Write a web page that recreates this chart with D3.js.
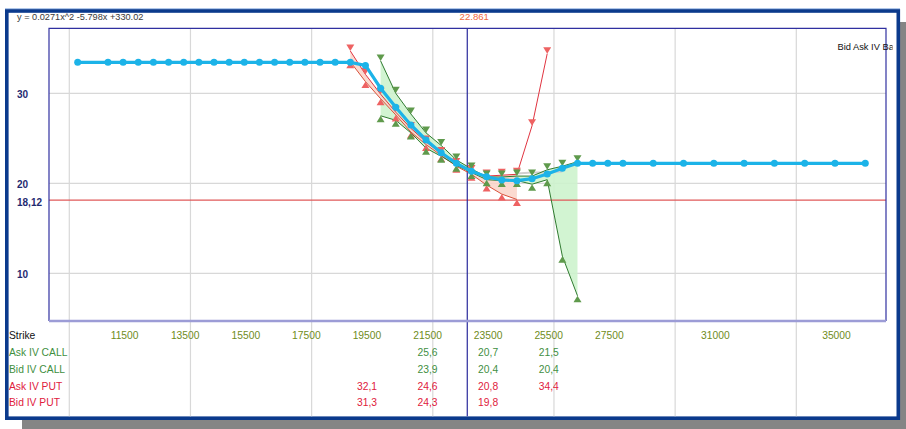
<!DOCTYPE html>
<html><head><meta charset="utf-8">
<script src="https://cdn.jsdelivr.net/npm/d3@7/dist/d3.min.js"></script>
<style>body{margin:0;background:#fff;} svg{display:block;font-family:"Liberation Sans",Arial,sans-serif;}</style>
</head><body><svg id="c" width="906" height="429"></svg>
<script>
// ---- data ----
const fitStrikes = [10000,11000,11500,12000,12500,13000,13500,14000,14500,15000,15500,16000,16500,17000,17500,18000,18500,19000,
  19500,20000,20500,21000,21500,22000,22500,23000,23500,24000,24500,25000,25500,26000,26500,
  27000,27500,28000,29000,30000,31000,32000,33000,34000,35000,36000];
const fitIV = [33.44,33.44,33.44,33.44,33.44,33.44,33.44,33.44,33.44,33.44,33.44,33.44,33.44,33.44,33.44,33.44,33.44,33.44,
  33.1,30.56,28.44,26.48,24.81,23.4,22.22,21.33,20.73,20.37,20.29,20.51,21.03,21.67,22.22,
  22.22,22.22,22.22,22.22,22.22,22.22,22.22,22.22,22.22,22.22,22.22];
const callStrikes = [20000,20500,21000,21500,22000,22500,23000,23500,24000,24500,25000,25500,26000,26500];
const askCallIV = [33.6,30.0,27.7,25.6,24.2,22.6,21.6,20.7,20.7,20.8,20.8,21.5,21.9,22.4];
const bidCallIV = [27.5,27.0,25.6,23.9,23.0,22.0,21.2,20.4,20.3,20.3,19.9,20.4,11.9,7.5];
const askPutStrikes = [19000,19500,20000,20500,21000,21500,22000,22500,23000,23500,24000,24500,25000,25500];
const askPutIV = [34.7,32.1,29.9,27.9,26.1,24.6,23.3,22.1,21.3,20.8,20.9,21.0,26.4,34.4];
const bidPutStrikes = [19000,19500,20000,20500,21000,21500,22000,22500,23000,23500,24000,24500];
const bidPutIV = [33.5,31.3,29.4,27.6,25.7,24.3,23.1,21.9,21.0,19.8,18.8,18.2];
const midStrikes = [24500,25000,25500,26000];
const midIV = [21.1,21.2,21.2,21.3];
const tickStrikes = [11500,13500,15500,17500,19500,21500,23500,25500,27500,31000,35000];
const gridStrikes = [9723,13723,17723,21723,25723,29723,33723];
const yTicks = [10,20,30];
const refIV = 18.12, refLabel = "18,12";
const underlying = 22861, underlyingLabel = "22.861";
const equation = "y = 0.0271x^2 -5.798x +330.02";
const legendText = "Bid Ask IV Bar";
const tableRows = [
  {label:"Ask IV CALL", strikes:callStrikes, values:askCallIV, color:"#3f8f3f"},
  {label:"Bid IV CALL", strikes:callStrikes, values:bidCallIV, color:"#3f8f3f"},
  {label:"Ask IV PUT", strikes:askPutStrikes, values:askPutIV, color:"#e0203c"},
  {label:"Bid IV PUT", strikes:bidPutStrikes, values:bidPutIV, color:"#e0203c"}
];

// ---- drawing ----
const svg = d3.select("#c");
const L=49, R=886, T=28.3, B=321;
const x = d3.scaleLinear().domain([9053,36684]).range([L,R]);
const y = d3.scaleLinear().domain([4.7,37.22]).range([B,T]);

// shadow + frame
svg.append("rect").attr("x",22).attr("y",22).attr("width",884).attr("height",407).attr("fill","#858585");
svg.append("rect").attr("x",5).attr("y",8.3).attr("width",895).attr("height",1.2).attr("fill","#8fb0e0");
svg.append("rect").attr("x",6.8).attr("y",11).attr("width",891.5).attr("height",407.2)
  .attr("fill","#fff").attr("stroke","#0b3a8c").attr("stroke-width",3.6);
svg.append("defs").append("clipPath").attr("id","fr").append("rect")
  .attr("x",8.6).attr("y",12.8).attr("width",884).attr("height",403.5);
const g = svg.append("g").attr("clip-path","url(#fr)");

// grid
g.selectAll(".vg").data(gridStrikes).join("line")
  .attr("x1",d=>x(d)).attr("x2",d=>x(d)).attr("y1",T).attr("y2",417)
  .attr("stroke","#d8d8d8").attr("stroke-width",1.2);
g.selectAll(".hg").data(yTicks).join("line")
  .attr("x1",L).attr("x2",R).attr("y1",d=>y(d)).attr("y2",d=>y(d))
  .attr("stroke","#d8d8d8").attr("stroke-width",1.2);

// fills
const callIdx = d3.range(callStrikes.length);
g.append("path").datum(callIdx)
  .attr("d", d3.area().x(i=>x(callStrikes[i])).y0(i=>y(bidCallIV[i])).y1(i=>y(askCallIV[i])))
  .attr("fill","#cdf3cd").attr("opacity",0.9);
const putIdx = d3.range(bidPutStrikes.length);
g.append("path").datum(putIdx)
  .attr("d", d3.area().x(i=>x(bidPutStrikes[i])).y0(i=>y(bidPutIV[i])).y1(i=>y(askPutIV[askPutStrikes.indexOf(bidPutStrikes[i])])))
  .attr("fill","#fad3c8").attr("opacity",0.85);

// reference lines
g.append("line").attr("x1",L).attr("x2",R).attr("y1",y(refIV)).attr("y2",y(refIV))
  .attr("stroke","#e05a5a").attr("stroke-width",1.2);
g.append("line").attr("x1",x(underlying)).attr("x2",x(underlying)).attr("y1",T).attr("y2",417)
  .attr("stroke","#2a2a9c").attr("stroke-width",1.2);

// series lines
function line(strikes, vals, color, w){
  g.append("path").datum(d3.range(strikes.length))
   .attr("d", d3.line().x(i=>x(strikes[i])).y(i=>y(vals[i])))
   .attr("fill","none").attr("stroke",color).attr("stroke-width",w);
}
line(midStrikes, midIV, "#cfcfcf", 2);
line(askPutStrikes, askPutIV, "#e03440", 1);
line(bidPutStrikes, bidPutIV, "#d8503a", 1);
line(callStrikes, askCallIV, "#2f7a2f", 1);
line(callStrikes, bidCallIV, "#2f7a2f", 1);

// markers
function tri(strikes, vals, color, down){
  g.selectAll(null).data(d3.range(strikes.length)).join("path")
   .attr("d", i=>{const px=x(strikes[i]), py=y(vals[i]); const s=down?-1:1;
     return `M${px-4},${py+6.5*s}L${px+4},${py+6.5*s}L${px},${py}Z`;})
   .attr("fill",color);
}
tri(askPutStrikes, askPutIV, "#ee6262", true);
tri(bidPutStrikes, bidPutIV, "#ee6262", false);
tri(callStrikes, askCallIV, "#5f9a4c", true);
tri(callStrikes, bidCallIV, "#5f9a4c", false);

// fitted curve
line(fitStrikes, fitIV, "#1cb3e8", 3.2);
g.selectAll(".fp").data(d3.range(fitStrikes.length)).join("circle")
  .attr("cx",i=>x(fitStrikes[i])).attr("cy",i=>y(fitIV[i])).attr("r",3.5).attr("fill","#1cb3e8");

// plot border
g.append("path").attr("d",`M${L},${B}L${L},${T}L${R},${T}L${R},${B}`)
  .attr("fill","none").attr("stroke","#3030a0").attr("stroke-width",1.2);
g.append("line").attr("x1",L).attr("x2",R).attr("y1",B).attr("y2",B)
  .attr("stroke","#9c9cd6").attr("stroke-width",2.4);

// y labels
g.selectAll(".yl").data(yTicks).join("text")
  .attr("x",17).attr("y",d=>y(d)+1).attr("dy","0.35em").text(d=>d)
  .attr("font-size",10).attr("font-weight","bold").attr("fill","#1f2a70");
g.append("text").attr("x",17).attr("y",y(refIV)+2).attr("dy","0.35em").text(refLabel)
  .attr("font-size",10).attr("font-weight","bold").attr("fill","#1f2a70");

// top texts
g.append("text").attr("x",17).attr("y",17).attr("dy","0.35em").text(equation)
  .attr("font-size",9.2).attr("fill","#3a3a3a");
g.append("text").attr("x",x(underlying)+7).attr("y",17).attr("dy","0.35em").attr("text-anchor","middle")
  .text(underlyingLabel).attr("font-size",9.6).attr("fill","#f06a3c");
g.append("text").attr("x",837.5).attr("y",47).attr("dy","0.35em").text(legendText)
  .attr("font-size",9.3).attr("fill","#111");

// table
const rowY = [335, 352.7, 369.3, 386, 402.7];
g.append("text").attr("x",9).attr("y",rowY[0]).attr("dy","0.35em").text("Strike")
  .attr("font-size",10.3).attr("fill","#111");
g.selectAll(".tk").data(tickStrikes).join("text")
  .attr("x",d=>x(d)+1.5).attr("y",rowY[0]).attr("dy","0.35em").attr("text-anchor","middle")
  .text(d=>d).attr("font-size",10.3).attr("fill","#6f8c22");
tableRows.forEach((r,k)=>{
  const yy=rowY[k+1];
  g.append("text").attr("x",9).attr("y",yy).attr("dy","0.35em").text(r.label)
    .attr("font-size",10.3).attr("fill",r.color);
  const cells = tickStrikes.filter(s=>r.strikes.includes(s));
  g.selectAll(null).data(cells).join("text")
    .attr("x",s=>x(s)+1.5).attr("y",yy).attr("dy","0.35em").attr("text-anchor","middle")
    .text(s=>r.values[r.strikes.indexOf(s)].toFixed(1).replace(".",","))
    .attr("font-size",10.3).attr("fill",r.color);
});
</script></body></html>
